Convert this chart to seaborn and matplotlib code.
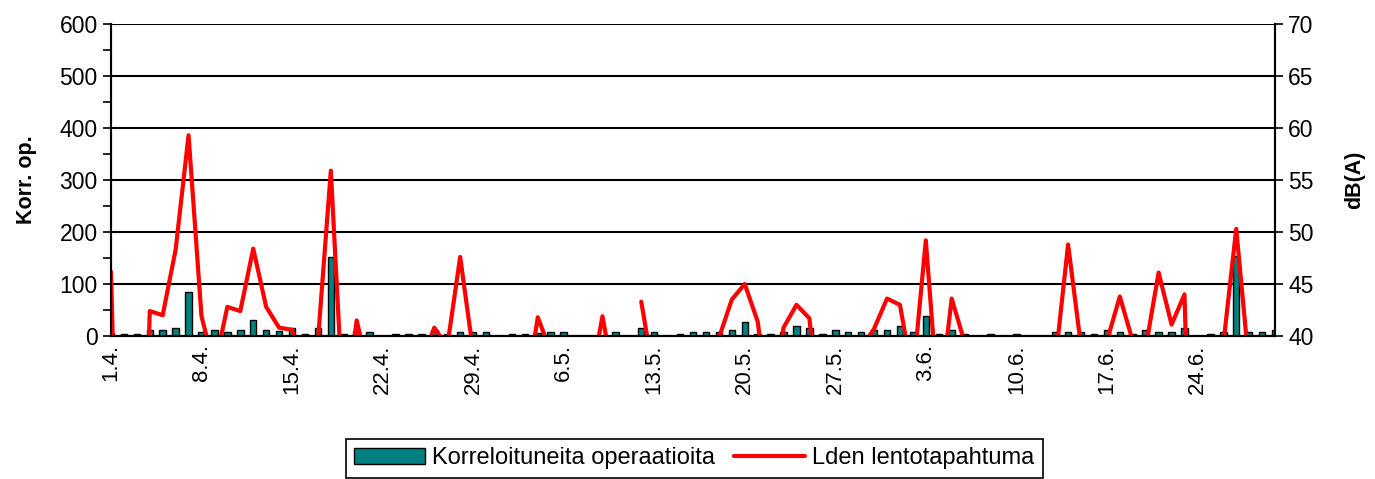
import numpy as np
import pandas as pd
import seaborn as sns
import matplotlib.pyplot as plt
from matplotlib.patches import Patch
from matplotlib.lines import Line2D
from matplotlib.ticker import MultipleLocator

sns.set_style("white")
plt.rcParams['font.family'] = ['Liberation Sans', 'DejaVu Sans']
plt.rcParams['text.color'] = 'black'
plt.rcParams['axes.labelcolor'] = 'black'
plt.rcParams['xtick.color'] = 'black'
plt.rcParams['ytick.color'] = 'black'

# päivät 1.4. - 30.6.
days = pd.date_range("2008-04-01", "2008-06-30")
day_labels = [f"{d.day}.{d.month}." for d in days]

# korreloituneet operaatiot per päivä
ops = [5, 3, 3, 11, 11, 15, 84, 8, 11, 8,
       11, 30, 11, 10, 15, 3, 15, 152, 3, 10,
       7, 0, 3, 3, 3, 11, 3, 7, 7, 7,
       0, 3, 3, 5, 7, 7, 0, 0, 0, 7,
       0, 15, 7, 0, 3, 7, 7, 7, 11, 26,
       3, 3, 8, 19, 15, 3, 11, 7, 7, 11,
       11, 19, 7, 38, 3, 11, 3, 0, 3, 0,
       3, 0, 0, 7, 7, 7, 3, 11, 7, 3,
       11, 7, 7, 15, 0, 3, 7, 154, 7, 7,
       11]

# Lden lentotapahtuma, dB(A)
lden = [46.2, 0, 0, 42.4, 42.0, 48.3, 59.3, 41.9, 37, 42.8,
        42.4, 48.4, 42.8, 40.8, 40.6, 36, 39.5, 55.9, 32, 41.5,
        36, 0, 0, 0, 37.5, 40.8, 39, 47.6, 38.5, 0,
        0, 0, 34, 41.8, 38.5, 0, 0, 35, 41.9, 35,
        np.nan, 43.3, 36, 0, 0, 30, 39.8, 39.8, 43.5, 45.0,
        41.4, 32, 40.8, 43.0, 41.7, 30, 0, 0, 38.8, 40.7,
        43.6, 43.0, 36, 49.2, 33, 43.6, 39.4, 0, 0, 0,
        0, 0, 0, 37.4, 48.8, 39, 0, 39.5, 43.8, 39.5,
        38.9, 46.1, 41.1, 44.0, 0, 0, 39.2, 50.3, 37, 0,
        0]

df = pd.DataFrame({"day": np.arange(len(days)), "ops": ops, "lden": lden})
# katkot viivaan puuttuvien arvojen kohdalle
df["seg"] = df["lden"].isna().cumsum()
line_df = df.dropna(subset=["lden"])

teal = "#008080"
red = "#ff0000"

fig = plt.figure(figsize=(13.75, 4.79), dpi=100)
ax = fig.add_axes([0.0807, 0.2985, 0.8466, 0.6514])

sns.barplot(data=df, x="day", y="ops", ax=ax, color=teal, saturation=1,
            edgecolor="black", linewidth=1, width=0.5, zorder=3)
ax.set_xlim(0, len(days) - 1)
ax.set_ylim(0, 600)
ax.yaxis.set_major_locator(MultipleLocator(100))
ax.yaxis.set_minor_locator(MultipleLocator(50))
ax.grid(axis="y", color="black", linewidth=1.5, zorder=1)
ax.get_ygridlines()[-1].set_visible(False)
ax.set_axisbelow(True)

ticks = list(range(0, len(days), 7))
ax.set_xticks(ticks)
ax.set_xticklabels([day_labels[i] for i in ticks], rotation=90)
ax.tick_params(axis="x", length=0, labelsize=16, pad=6)
ax.tick_params(axis="y", which="both", direction="out", left=True,
               length=6, width=1.2, labelsize=16.5)
ax.set_xlabel("")
ax.set_ylabel("Korr. op.", fontsize=15.5, fontweight="bold", labelpad=16)

ax2 = ax.twinx()
sns.lineplot(data=line_df, x="day", y="lden", units="seg", estimator=None,
             ax=ax2, color=red, linewidth=3, legend=False)
ax2.set_ylim(40, 70)
ax2.set_xlim(0, len(days) - 1)
ax2.yaxis.set_major_locator(MultipleLocator(5))
ax2.tick_params(axis="y", direction="out", right=True, length=6, width=1.2,
                labelsize=16.5)
ax2.set_ylabel("dB(A)", fontsize=15.5, fontweight="bold", labelpad=22)
ax2.set_xlabel("")

for a in (ax, ax2):
    a.spines["top"].set_visible(False)
    for s in ("left", "right", "bottom"):
        a.spines[s].set_color("black")
        a.spines[s].set_linewidth(1.5)

handles = [Patch(facecolor=teal, edgecolor="black", linewidth=1),
           Line2D([0], [0], color=red, linewidth=3)]
leg = fig.legend(handles, ["Korreloituneita operaatioita", "Lden lentotapahtuma"],
                 loc="center", bbox_to_anchor=(0.505, 0.043), ncol=2,
                 fontsize=17, frameon=True, fancybox=False, framealpha=1,
                 edgecolor="black", handlelength=3, handletextpad=0.3,
                 columnspacing=0.8, borderpad=0.35)
leg.get_frame().set_linewidth(1.2)

fig.savefig("out.png", dpi=100)
